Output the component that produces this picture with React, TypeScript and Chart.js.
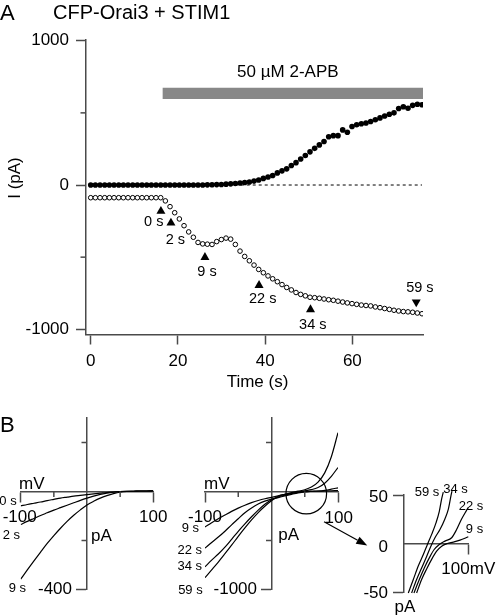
import React, { useEffect, useRef } from 'react';
import { Chart, registerables } from 'chart.js';

Chart.register(...registerables);

const FONT = '"Liberation Sans", Arial, Helvetica, sans-serif';
Chart.defaults.font.family = FONT;
Chart.defaults.color = '#000';

// ---------------- Panel A data ----------------
const SWEEP_INTERVAL_S = 1.07;
const closedCurrent = [
  0, 0, 0, 0, 0, 0, 0, 0, 0, 0,
  0, 0, 0, 0, 0, 0, 0, 0, 0, 0,
  0, 0, 0, 0, 0, 1, 2, 3, 4, 6,
  8, 11, 14, 17, 21, 27, 35, 46, 56, 66,
  84, 98, 112, 135, 155, 180, 205, 230, 254, 278,
  302, 335, 342, 342, 382, 366, 406, 418, 425, 430,
  440, 452, 465, 478, 490, 500, 530, 542, 532, 552,
  560, 556,
];
const openCurrent = [
  -88, -88, -88, -88, -88, -88, -88, -88, -88, -88,
  -88, -88, -88, -88, -88, -88, -110, -150, -192, -235,
  -282, -325, -362, -398, -408, -410, -412, -392, -378, -368,
  -375, -412, -458, -495, -525, -555, -585, -608, -630, -650,
  -670, -690, -710, -727, -745, -758, -768, -778, -781, -785,
  -790, -795, -799, -805, -811, -817, -822, -827, -832, -835,
  -838, -845, -850, -856, -862, -868, -873, -877, -879, -882,
  -887, -892,
];
const timeTicks = [0, 20, 40, 60];
const currentTicks = [-1000, -500, 0, 500, 1000];
const currentTickLabels = ['-1000', '', '0', '', '1000'];
const currentMinorTicks = [-500, 500];
const markerTimes = [16.1, 18.4, 26.2, 38.6, 50.4, 74.65];
const markerCurrents = [-182, -263, -501, -695, -863, -811];
const markerLabels = ['0 s', '2 s', '9 s', '22 s', '34 s', '59 s'];
const markerPointsDown = [false, false, false, false, false, true];
const drugLabel = '50 µM 2-APB';
const drugStart = 16.5;
const drugEnd = 76.2;
const drugLevel = 635;

// ---------------- Panel B data ----------------
const ivVoltages = [-100, -90, -80, -70, -60, -50, -40, -30, -20, -10, 0, 10, 20, 30, 40, 50, 60, 70, 80, 90, 100];
// B left
const iv0s = [-59, -53, -48, -43, -37, -32, -27, -23, -19, -16, -13, -10, -7, -4, -2, 0, 1, 1, 2, 2, 3];
const iv2s = [-135, -122, -110, -98, -87, -76, -66, -56, -46, -36, -27, -19, -12, -7, -3, 0, 1, 1, 2, 2, 3];
const iv9s = [-358, -320, -283, -247, -212, -180, -150, -122, -97, -75, -55, -40, -27, -17, -9, -3, 0, 1, 2, 2, 3];
const bLeftLabels = ['0 s', '2 s', '9 s'];
// B middle
const ivB9s = [-361, -318, -278, -240, -203, -170, -140, -114, -92, -74, -60, -45, -30, -17, -8, -2, 1, 3, 5, 7, 9];
const ivB22s = [-578, -520, -465, -405, -340, -278, -216, -168, -128, -98, -78, -62, -45, -29, -14, -3, 2, 5, 12, 24, 38];
const ivB34s = [-769, -700, -638, -568, -488, -406, -330, -258, -190, -130, -85, -57, -38, -22, -6, 8, 19, 40, 85, 155, 245];
const ivB59s = [-879, -800, -720, -635, -548, -458, -372, -290, -215, -150, -95, -48, -28, -12, 3, 18, 45, 95, 190, 355, 600];
const bMidLabels = ['9 s', '22 s', '34 s', '59 s'];
// B inset
const inset59V = [7.7, 15.4, 23, 30.8, 37.4, 43.6, 50.3, 55.4, 59, 61.5];
const inset59I = [-51, -37, -23, -11, 0, 10, 22, 34, 47, 54];
const inset34V = [12.8, 20.5, 28.2, 35.9, 42.6, 48.7, 56.4, 64, 69.2, 73.3, 74.9];
const inset34I = [-51, -37, -25, -13, -2, 6.5, 15, 26, 36, 50, 55];
const inset22V = [16.4, 24.6, 32.3, 40, 47.2, 55.4, 64.1, 74.4, 82, 89.7, 96.4, 100];
const inset22I = [-51, -37, -25, -14.5, -6, -0.5, 3, 6.5, 15, 26, 34, 38];
const inset9V = [20.5, 28.2, 35.9, 43.6, 51.3, 59, 67.7, 76.9, 87.2, 100];
const inset9I = [-51, -37, -26, -16, -7.5, -2.3, 0.5, 2, 4, 7.5];

// ---------------- styling ----------------
const AXIS = '#4a4a4a';
const AXIS_W = 1.5;
const W = 496;
const H = 616;

type Ctx = CanvasRenderingContext2D;

function text(ctx: Ctx, s: string, x: number, y: number, size: number, align: CanvasTextAlign = 'left', rot = 0) {
  ctx.save();
  ctx.font = `${size}px ${FONT}`;
  ctx.fillStyle = '#000';
  ctx.textAlign = align;
  ctx.textBaseline = 'middle';
  ctx.translate(x, y);
  if (rot) ctx.rotate(rot);
  ctx.fillText(s, 0, 0);
  ctx.restore();
}

function seg(ctx: Ctx, x1: number, y1: number, x2: number, y2: number, color = AXIS, w = AXIS_W) {
  ctx.save();
  ctx.strokeStyle = color;
  ctx.lineWidth = w;
  ctx.beginPath();
  ctx.moveTo(x1, y1);
  ctx.lineTo(x2, y2);
  ctx.stroke();
  ctx.restore();
}

function majorFilter(majors: number[]) {
  return (c: any) => (c.tick && majors.includes(c.tick.value) ? AXIS : 'rgba(0,0,0,0)');
}

const commonOpts = {
  responsive: false,
  animation: false as const,
  events: [] as any[],
  plugins: { legend: { display: false }, tooltip: { enabled: false }, title: { display: false } },
};

function gridOpts(tickColor: any = AXIS) {
  return { display: true, drawOnChartArea: false, drawTicks: true, tickLength: 10, tickColor, tickWidth: AXIS_W };
}
const borderOpts = { display: true, color: AXIS, width: AXIS_W };

// ---------------- Panel A ----------------
function configA(): any {
  const times = closedCurrent.map((_, i) => i * SWEEP_INTERVAL_S);
  return {
    type: 'scatter',
    data: {
      datasets: [
        {
          label: 'markers',
          data: markerTimes.map((t, i) => ({ x: t, y: markerCurrents[i] })),
          pointStyle: 'triangle',
          pointRadius: 5.2,
          pointRotation: markerPointsDown.map((d) => (d ? 180 : 0)),
          backgroundColor: '#000',
          borderColor: '#000',
          borderWidth: 0,
          showLine: false,
        },
        {
          label: 'closed',
          data: times.map((t, i) => ({ x: t, y: closedCurrent[i] })),
          pointRadius: 2.8,
          backgroundColor: '#000',
          borderColor: '#000',
          borderWidth: 0,
          showLine: false,
        },
        {
          label: 'open',
          data: times.map((t, i) => ({ x: t, y: openCurrent[i] })),
          pointRadius: 2.3,
          backgroundColor: '#fff',
          borderColor: '#000',
          borderWidth: 1,
          showLine: false,
        },
        {
          label: 'zero',
          data: [{ x: 0, y: 0 }, { x: times[times.length - 1], y: 0 }],
          showLine: true,
          pointRadius: 0,
          borderColor: '#000',
          borderWidth: 1,
          borderDash: [3, 3],
        },
        {
          label: 'drug',
          data: [{ x: drugStart, y: drugLevel }, { x: drugEnd, y: drugLevel }],
          showLine: true,
          pointRadius: 0,
          borderColor: '#888888',
          borderWidth: 11.3,
          borderCapStyle: 'butt',
          clip: false,
        },
      ],
    },
    options: {
      ...commonOpts,
      layout: { padding: { left: 0, top: 40, right: 73, bottom: H - 400 } },
      scales: {
        x: {
          type: 'linear',
          position: 'bottom',
          min: -1.08,
          max: 76.2,
          afterBuildTicks: (s: any) => { s.ticks = timeTicks.map((v) => ({ value: v })); },
          afterFit: (s: any) => { s.height = 65.5; },
          grid: gridOpts(),
          border: borderOpts,
          ticks: { padding: 7, color: '#000', font: { family: FONT, size: 17 }, maxRotation: 0, autoSkip: false, callback: (v: any) => String(v) },
        },
        y: {
          type: 'linear',
          position: 'left',
          min: -1036,
          max: 1005,
          afterBuildTicks: (s: any) => { s.ticks = currentTicks.map((v) => ({ value: v })); },
          afterFit: (s: any) => { s.width = 86; },
          grid: gridOpts(majorFilter([-1000, 0, 1000])),
          border: borderOpts,
          ticks: { padding: 7, color: '#000', font: { family: FONT, size: 17 }, autoSkip: false, callback: (_v: any, i: number) => currentTickLabels[i] },
        },
      },
    },
    plugins: [
      {
        id: 'decorA',
        afterDraw(chart: any) {
          const ctx: Ctx = chart.ctx;
          const xs = chart.scales.x;
          const ys = chart.scales.y;
          const ca = chart.chartArea;
          currentMinorTicks.forEach((v) => {
            const py = ys.getPixelForValue(v);
            seg(ctx, ca.left, py, ca.left - 5.5, py);
          });
          text(ctx, 'A', 0, 13.7, 22);
          text(ctx, 'CFP-Orai3 + STIM1', 53, 13.7, 20);
          text(ctx, drugLabel, xs.getPixelForValue((drugStart + drugEnd) / 2) - 5, ys.getPixelForValue(drugLevel) - 21, 17, 'center');
          text(ctx, 'I (pA)', 15.5, 178, 17, 'center', -Math.PI / 2);
          text(ctx, 'Time (s)', 257.5, 382.7, 17, 'center');
          const offs = [[-7.2, 11.2], [4.5, 17.5], [2, 14.4], [3.7, 14.2], [2.3, 15.9], [3.6, -14.2]];
          markerLabels.forEach((lab, i) => {
            const px = xs.getPixelForValue(markerTimes[i]);
            const py = ys.getPixelForValue(markerCurrents[i]);
            text(ctx, lab, px + offs[i][0], py + offs[i][1], 14.5, 'center');
          });
        },
      },
    ],
  };
}

// ---------------- Panel B helpers ----------------
function ivScales(xMin: number, xMax: number, yMin: number, yMax: number, xMajor: number[], yMajor: number[]) {
  return {
    x: {
      type: 'linear',
      min: xMin,
      max: xMax,
      position: { y: 0 },
      afterBuildTicks: (s: any) => { s.ticks = xMajor.map((v) => ({ value: v })); },
      grid: gridOpts(),
      border: borderOpts,
      ticks: { display: false },
    },
    y: {
      type: 'linear',
      min: yMin,
      max: yMax,
      position: { x: 0 },
      afterBuildTicks: (s: any) => { s.ticks = yMajor.map((v) => ({ value: v })); },
      grid: gridOpts(),
      border: borderOpts,
      ticks: { display: false },
    },
  };
}

function curve(xs: number[], ys: number[], clip: any = undefined) {
  const d: any = {
    data: xs.map((x, i) => ({ x, y: ys[i] })),
    showLine: true,
    pointRadius: 0,
    borderColor: '#000',
    borderWidth: 1.2,
    cubicInterpolationMode: 'monotone',
    fill: false,
  };
  if (clip !== undefined) d.clip = clip;
  return d;
}

function minorTicks(ctx: Ctx, chart: any, xMinor: number[], yMinor: number[]) {
  const xs = chart.scales.x;
  const ys = chart.scales.y;
  const x0 = xs.getPixelForValue(0);
  const y0 = ys.getPixelForValue(0);
  xMinor.forEach((v) => {
    const px = xs.getPixelForValue(v);
    seg(ctx, px, y0, px, y0 + 5.5);
  });
  yMinor.forEach((v) => {
    const py = ys.getPixelForValue(v);
    seg(ctx, x0, py, x0 - 5.5, py);
  });
}

// ---------------- Panel B left ----------------
function configB1(): any {
  const series = [iv0s, iv2s, iv9s];
  return {
    type: 'scatter',
    data: { datasets: series.map((s) => curve(ivVoltages, s)) },
    options: {
      ...commonOpts,
      layout: { padding: { left: 20.7, right: W - 153.3, top: 418, bottom: H - 589.5 } },
      scales: ivScales(-100, 100, -400, 300, [-100, 100], [-400]),
    },
    plugins: [
      {
        id: 'decorB1',
        afterDraw(chart: any) {
          const ctx: Ctx = chart.ctx;
          const xs = chart.scales.x;
          const ys = chart.scales.y;
          minorTicks(ctx, chart, [-50, 50], [-200, 200]);
          const x0 = xs.getPixelForValue(0);
          const y0 = ys.getPixelForValue(0);
          text(ctx, 'B', 0, 426.3, 22);
          text(ctx, 'mV', xs.getPixelForValue(-100) - 1.7, y0 - 7.5, 17);
          text(ctx, '-100', xs.getPixelForValue(-100) - 1, y0 + 26, 17, 'center');
          text(ctx, '100', xs.getPixelForValue(100), y0 + 26, 17, 'center');
          text(ctx, 'pA', x0 + 4, y0 + 44.5, 17);
          text(ctx, '-400', x0 - 15, ys.getPixelForValue(-400), 17, 'right');
          const offs = [[-4, -4.7], [-0.7, 10.4], [5.3, 8.8]];
          series.forEach((s, i) => {
            const px = xs.getPixelForValue(ivVoltages[0]);
            const py = ys.getPixelForValue(s[0]);
            text(ctx, bLeftLabels[i], px + offs[i][0], py + offs[i][1], 13, 'right');
          });
        },
      },
    ],
  };
}

// ---------------- Panel B middle ----------------
const circleCenterV = 52.3;
const circleCenterI = -22;
const arrowFrom = [79, -308];
const arrowTo = [144, -551];

function configB2(): any {
  const series = [ivB9s, ivB22s, ivB34s, ivB59s];
  return {
    type: 'scatter',
    data: { datasets: series.map((s) => curve(ivVoltages, s)) },
    options: {
      ...commonOpts,
      layout: { padding: { left: 205, right: W - 338, top: 418, bottom: H - 589.5 } },
      scales: ivScales(-100, 100, -1000, 750, [-100, 100], [-1000]),
    },
    plugins: [
      {
        id: 'decorB2',
        afterDraw(chart: any) {
          const ctx: Ctx = chart.ctx;
          const xs = chart.scales.x;
          const ys = chart.scales.y;
          minorTicks(ctx, chart, [-50, 50], [-500, 500]);
          const x0 = xs.getPixelForValue(0);
          const y0 = ys.getPixelForValue(0);
          text(ctx, 'mV', xs.getPixelForValue(-100) - 1, y0 - 7.5, 17);
          text(ctx, '-100', xs.getPixelForValue(-100), y0 + 26, 17, 'center');
          text(ctx, '100', xs.getPixelForValue(100) + 0.7, y0 + 26.5, 17, 'center');
          text(ctx, 'pA', x0 + 6.8, y0 + 44.2, 17);
          text(ctx, '-1000', x0 - 14.5, ys.getPixelForValue(-1000), 17, 'right');
          const offs = [[-6, 1.6], [-3, 2], [-3, 0], [-2.3, 12.4]];
          series.forEach((s, i) => {
            const px = xs.getPixelForValue(ivVoltages[0]);
            const py = ys.getPixelForValue(s[0]);
            text(ctx, bMidLabels[i], px + offs[i][0], py + offs[i][1], 13, 'right');
          });
          // circle
          ctx.save();
          ctx.strokeStyle = '#000';
          ctx.lineWidth = 1.2;
          ctx.beginPath();
          ctx.arc(xs.getPixelForValue(circleCenterV), ys.getPixelForValue(circleCenterI), 20.3, 0, Math.PI * 2);
          ctx.stroke();
          // arrow
          const ax1 = xs.getPixelForValue(arrowFrom[0]);
          const ay1 = ys.getPixelForValue(arrowFrom[1]);
          const ax2 = xs.getPixelForValue(arrowTo[0]);
          const ay2 = ys.getPixelForValue(arrowTo[1]);
          const ang = Math.atan2(ay2 - ay1, ax2 - ax1);
          const hl = 11;
          const hw = 4;
          const bx = ax2 - hl * Math.cos(ang);
          const by = ay2 - hl * Math.sin(ang);
          ctx.beginPath();
          ctx.moveTo(ax1, ay1);
          ctx.lineTo(bx, by);
          ctx.stroke();
          ctx.fillStyle = '#000';
          ctx.beginPath();
          ctx.moveTo(ax2, ay2);
          ctx.lineTo(bx + hw * Math.sin(ang), by - hw * Math.cos(ang));
          ctx.lineTo(bx - hw * Math.sin(ang), by + hw * Math.cos(ang));
          ctx.closePath();
          ctx.fill();
          ctx.restore();
        },
      },
    ],
  };
}

// ---------------- Panel B inset ----------------
function configB3(): any {
  const sets = [
    { v: inset59V, i: inset59I, lab: '59 s', off: [-16.3, 0] },
    { v: inset34V, i: inset34I, lab: '34 s', off: [3.5, -2.2] },
    { v: inset22V, i: inset22I, lab: '22 s', off: [2.7, -1.5] },
    { v: inset9V, i: inset9I, lab: '9 s', off: [6.2, -7.8] },
  ];
  return {
    type: 'scatter',
    data: { datasets: sets.map((s) => curve(s.v, s.i, false)) },
    options: {
      ...commonOpts,
      layout: { padding: { left: 403.3, right: W - 468.3, top: 495, bottom: H - 592 } },
      scales: ivScales(0, 100, -50, 51, [100], [-50, 50]),
    },
    plugins: [
      {
        id: 'decorB3',
        afterDraw(chart: any) {
          const ctx: Ctx = chart.ctx;
          const xs = chart.scales.x;
          const ys = chart.scales.y;
          const x0 = xs.getPixelForValue(0);
          const y0 = ys.getPixelForValue(0);
          text(ctx, '50', x0 - 15.3, ys.getPixelForValue(50) + 1.3, 17, 'right');
          text(ctx, '0', x0 - 15.3, y0 + 3.5, 17, 'right');
          text(ctx, '-50', x0 - 15.3, ys.getPixelForValue(-50) + 1, 17, 'right');
          text(ctx, 'pA', x0 + 1.7, ys.getPixelForValue(-50) + 15, 17, 'center');
          text(ctx, '100mV', xs.getPixelForValue(100), y0 + 25, 17, 'center');
          sets.forEach((s) => {
            const n = s.v.length - 1;
            const px = xs.getPixelForValue(s.v[n]);
            const py = ys.getPixelForValue(s.i[n]);
            text(ctx, s.lab, px + s.off[0], py + s.off[1], 13, 'center');
          });
        },
      },
    ],
  };
}

export default function App() {
  const refA = useRef<HTMLCanvasElement>(null);
  const refB1 = useRef<HTMLCanvasElement>(null);
  const refB2 = useRef<HTMLCanvasElement>(null);
  const refB3 = useRef<HTMLCanvasElement>(null);

  useEffect(() => {
    const charts: Chart[] = [];
    const pairs: [React.RefObject<HTMLCanvasElement>, () => any][] = [
      [refA, configA],
      [refB1, configB1],
      [refB2, configB2],
      [refB3, configB3],
    ];
    pairs.forEach(([r, cfg]) => {
      if (r.current) charts.push(new Chart(r.current, cfg()));
    });
    return () => charts.forEach((c) => c.destroy());
  }, []);

  const cs: React.CSSProperties = { position: 'absolute', left: 0, top: 0, width: W, height: H };
  return (
    <div style={{ position: 'absolute', left: 0, top: 0, width: W, height: H, background: '#fff', overflow: 'hidden' }}>
      <canvas ref={refA} width={W} height={H} style={cs} />
      <canvas ref={refB1} width={W} height={H} style={cs} />
      <canvas ref={refB2} width={W} height={H} style={cs} />
      <canvas ref={refB3} width={W} height={H} style={cs} />
    </div>
  );
}
